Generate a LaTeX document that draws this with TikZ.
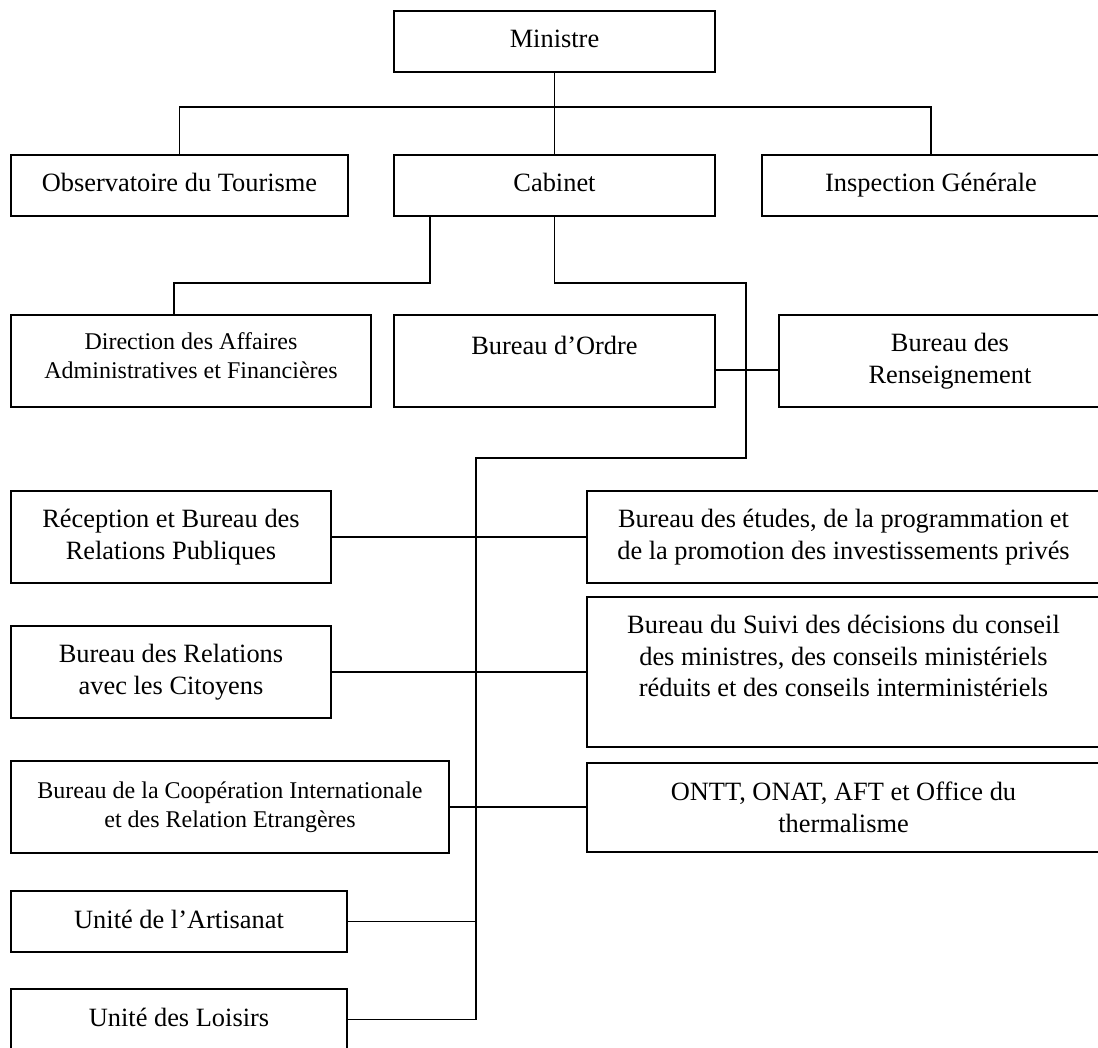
\documentclass[tikz,border=0pt]{standalone}
\usepackage{fontspec}
\setmainfont{Liberation Serif}
\usetikzlibrary{positioning}
\newcommand{\boxfont}{\fontsize{26.4}{31.5}\selectfont}
\newcommand{\boxsmall}{\fontsize{24}{29}\selectfont}
\tikzset{
  orgbox/.style={draw, line width=2pt, align=center, inner sep=0pt, outer sep=0pt, font=\boxfont},
  oneline/.style={text height=21.5pt, text depth=8.5pt},
  link/.style={line width=1.9pt}
}

\begin{document}
\begin{tikzpicture}[x=1pt, y=-1pt]
    \useasboundingbox (0,0) rectangle (1098,1048);
    \clip (0,0) rectangle (1098,1048);
    % top levels
    \node[orgbox, oneline, minimum width=321pt, minimum height=61pt] (mini) at (554.5,41.5) {Ministre};
    \node[orgbox, oneline, minimum width=321pt, minimum height=61pt, below=83pt of mini] (cab) {Cabinet};
    \node[orgbox, oneline, minimum width=337pt, minimum height=61pt, left=46pt of cab] (obs) {Observatoire du Tourisme};
    \node[orgbox, oneline, minimum width=338pt, minimum height=61pt, right=47pt of cab] (insp) {Inspection Générale};
    \node[orgbox, minimum width=321pt, minimum height=92pt, below=99pt of cab] (ordre) {Bureau d’Ordre\\ ~};
    \node[orgbox, minimum width=360pt, minimum height=92pt, left=23pt of ordre, font=\boxsmall] (daaf) {Direction des Affaires\\Administratives et Financières\\[-19pt]~};
    \node[orgbox, minimum width=342pt, minimum height=92pt, right=64pt of ordre] (rens) {Bureau des\\Renseignement};
    % left column
    \node[orgbox, minimum width=320pt, minimum height=92pt] (recep) at (171,537) {Réception et Bureau des\\Relations Publiques};
    \node[orgbox, minimum width=320pt, minimum height=92pt] (brc) at (171,672) {Bureau des Relations\\avec les Citoyens};
    \node[orgbox, minimum width=438pt, minimum height=92pt, font=\boxsmall] (bci) at (230,807) {Bureau de la Coopération Internationale\\et des Relation Etrangères};
    \node[orgbox, oneline, minimum width=336pt, minimum height=61pt] (art) at (179,921.5) {Unité de l’Artisanat};
    \node[orgbox, oneline, minimum width=336pt, minimum height=61pt] (lois) at (179,1019.5) {Unité des Loisirs};
    % right column
    \node[orgbox, minimum width=513pt, minimum height=92pt] (etud) at (843.5,537) {Bureau des études, de la programmation et\\de la promotion des investissements privés};
    \node[orgbox, minimum width=513pt, minimum height=150pt] (suivi) at (843.5,672) {Bureau du Suivi des décisions du conseil\\des ministres, des conseils ministériels\\réduits et des conseils interministériels\\ ~};
    \node[orgbox, minimum width=513pt, minimum height=89pt] (ontt) at (843.5,807.5) {ONTT, ONAT, AFT et Office du\\thermalisme};
    % links
    \coordinate (bend) at (746,458);
    \coordinate (trunk) at (476,458);
    \draw[link] (mini) -- (cab);
    \draw[link] (obs.north) -- ++(0,-48) -| (insp.north);
    \draw[link] ([xshift=-124.5pt]cab.south) -- ++(0,67) -| ([xshift=-17pt]daaf.north);
    \draw[link] (cab.south) -- ++(0,67) -| (bend) -- (trunk) |- (lois.east);
    \draw[link] ([yshift=-9pt]ordre.east) -- ([yshift=-9pt]rens.west);
    \draw[link] (recep) -- (etud);
    \draw[link] (brc) -- (suivi);
    \draw[link] (bci.east) -- (bci.east -| ontt.west);
    \draw[link] (art) -- (art -| trunk);
  \end{tikzpicture}
\end{document}
